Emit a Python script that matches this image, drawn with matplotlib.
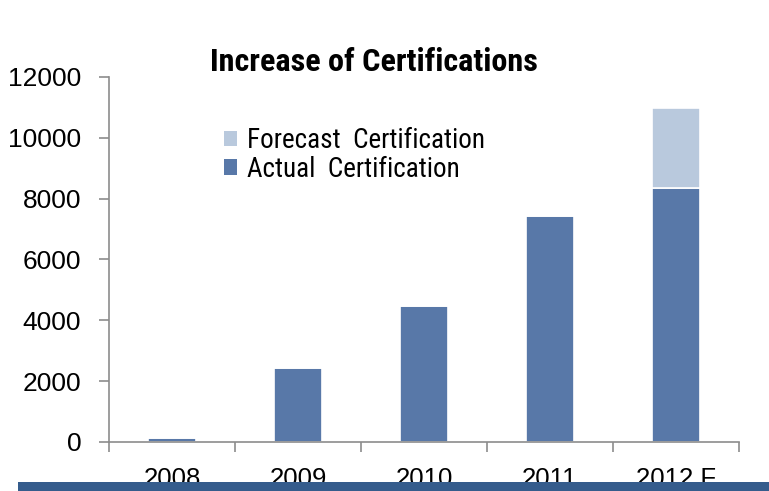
import matplotlib
matplotlib.use("Agg")
import matplotlib.pyplot as plt
from matplotlib import font_manager
from matplotlib.patches import Rectangle, Patch
import numpy as np

categories = ["2008", "2009", "2010", "2011", "2012 F"]
actual = [130, 2420, 4470, 7430, 8340]
forecast = [0, 0, 0, 0, 2640]
yticks = [0, 2000, 4000, 6000, 8000, 10000, 12000]

names = {f.name for f in font_manager.fontManager.ttflist}


def pick(prefs):
    for p in prefs:
        if p in names:
            return p
    return "DejaVu Sans"


narrow = pick(["Roboto Condensed", "Archivo Narrow", "PT Sans Narrow", "IBM Plex Sans Condensed",
               "Liberation Sans Narrow", "Open Sans Condensed", "DejaVu Sans"])
regular = pick(["Liberation Sans", "Arimo", "DejaVu Sans"])

c_actual = "#5878A8"
c_fore = "#B9C9DD"
c_axis = "#8C8C8C"

fig = plt.figure(figsize=(7.69, 4.91), dpi=100)
ax = fig.add_axes([0.1417, 0.0998, 0.8193, 0.7434])

x = np.arange(len(categories))
ax.bar(x, actual, width=0.385, color=c_actual, edgecolor="white", linewidth=1.2, zorder=2)
ax.bar(x, forecast, bottom=actual, width=0.385, color=c_fore, edgecolor="white", linewidth=1.2, zorder=2)

ax.set_xlim(-0.5, len(categories) - 0.5)
ax.set_ylim(0, 12000)
ax.set_yticks(yticks)
ax.set_yticklabels([str(v) for v in yticks], fontsize=19, family=regular)
ax.set_xticks(x)
ax.set_xticklabels(categories, fontsize=18.5, family=regular)
ax.set_xticks(np.arange(len(categories) + 1) - 0.5, minor=True)
ax.tick_params(axis="x", which="major", length=0, pad=18)
ax.tick_params(axis="x", which="minor", length=7, color=c_axis, width=1.2)
ax.tick_params(axis="y", length=7, color=c_axis, width=1.2, pad=13)

for s in ["top", "right"]:
    ax.spines[s].set_visible(False)
for s in ["left", "bottom"]:
    ax.spines[s].set_color(c_axis)
    ax.spines[s].set_linewidth(1.2)

handles = [Patch(facecolor=c_fore, edgecolor="none"), Patch(facecolor=c_actual, edgecolor="none")]
leg = ax.legend(handles, ["Forecast  Certification", "Actual  Certification"],
                loc="upper left", bbox_to_anchor=(0.165, 0.893), frameon=False,
                handlelength=0.5, handleheight=0.5, handletextpad=0.34, labelspacing=0.07,
                borderaxespad=0, prop={"family": narrow, "size": 19.5})

title = fig.text(0.486, 0.855, "Increase of Certifications", ha="center", va="baseline",
                 fontsize=22, fontweight="bold", family=narrow)

# fit title width to the reference's ~328 px
r = fig.canvas.get_renderer()
w = title.get_window_extent(r).width
title.set_fontsize(22 * 328 / w)

fig.patches.append(Rectangle((18 / 769, 0), 1 - 18 / 769, 9.5 / 491,
                             transform=fig.transFigure, facecolor="#355C8C",
                             edgecolor="none", zorder=10))

fig.savefig("out.png", dpi=100)
